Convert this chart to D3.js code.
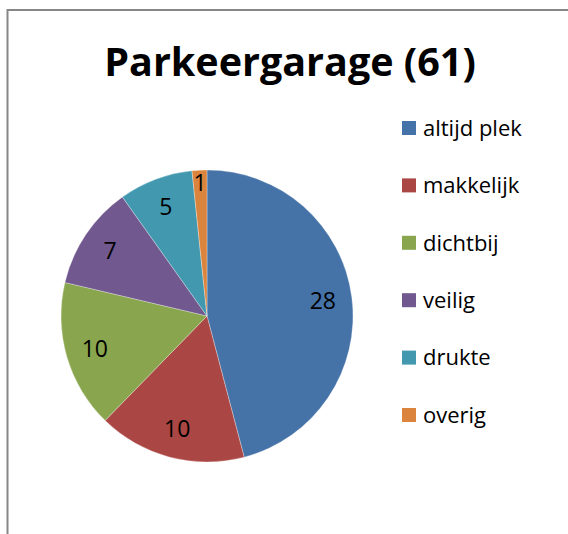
<!DOCTYPE html>
<html>
<head>
<meta charset="utf-8">
<script src="https://cdn.jsdelivr.net/npm/d3@7"></script>
<style>
  body { margin: 0; background: #fff; }
  svg { display: block; font-family: "Open Sans", Lato, sans-serif; }
</style>
</head>
<body>
<div id="chart"></div>
<script>
// data
var title = "Parkeergarage (61)";
var categories = ["altijd plek", "makkelijk", "dichtbij", "veilig", "drukte", "overig"];
var values = [28, 10, 10, 7, 5, 1];
var colors = ["#4572A7", "#AA4643", "#89A54E", "#71588F", "#4198AF", "#DB843D"];

var width = 568, height = 534;
var cx = 207, cy = 316, r = 146;

var svg = d3.select("#chart")
    .append("svg")
    .attr("width", width)
    .attr("height", height);

// chart frame (right and bottom edges run off the page)
svg.append("rect")
    .attr("x", 7.5)
    .attr("y", 10)
    .attr("width", 580)
    .attr("height", 560)
    .attr("fill", "none")
    .attr("stroke", "#878787")
    .attr("stroke-width", 2);

svg.append("text")
    .attr("x", 290)
    .attr("y", 76)
    .attr("text-anchor", "middle")
    .attr("font-size", 39.5)
    .attr("font-weight", "bold")
    .attr("fill", "#000")
    .text(title);

var pie = d3.pie().sort(null).value(function(d) { return d; });
var arcs = pie(values);

var arc = d3.arc().innerRadius(0).outerRadius(r);

// narrow slices get their label pushed outward, like excel's best fit
function labelPos(d) {
    var k = (d.endAngle - d.startAngle) < 0.2 ? 0.91 : 0.8;
    return d3.arc().innerRadius(r * k).outerRadius(r * k).centroid(d);
}

var g = svg.append("g")
    .attr("transform", "translate(" + cx + "," + cy + ")");

g.selectAll("path")
    .data(arcs)
    .enter().append("path")
    .attr("d", arc)
    .attr("fill", function(d, i) { return colors[i]; })
    .attr("stroke", "#fff")
    .attr("stroke-opacity", 0.5)
    .attr("stroke-width", 0.6);

g.selectAll("text")
    .data(arcs)
    .enter().append("text")
    .attr("transform", function(d) { return "translate(" + labelPos(d) + ")"; })
    .attr("text-anchor", "middle")
    .attr("dy", "0.35em")
    .attr("font-size", 23)
    .attr("fill", "#000")
    .text(function(d) { return d.data; });

// legend
var y = d3.scalePoint()
    .domain(categories)
    .range([128, 415]);

var legend = svg.append("g");
var item = legend.selectAll("g")
    .data(categories)
    .enter().append("g")
    .attr("transform", function(d) { return "translate(402," + y(d) + ")"; });

item.append("rect")
    .attr("x", 0)
    .attr("y", -7)
    .attr("width", 14)
    .attr("height", 14)
    .attr("fill", function(d, i) { return colors[i]; });

item.append("text")
    .attr("x", 21)
    .attr("y", 0)
    .attr("dy", "0.35em")
    .attr("font-size", 22)
    .attr("fill", "#000")
    .text(function(d) { return d; });
</script>
</body>
</html>
